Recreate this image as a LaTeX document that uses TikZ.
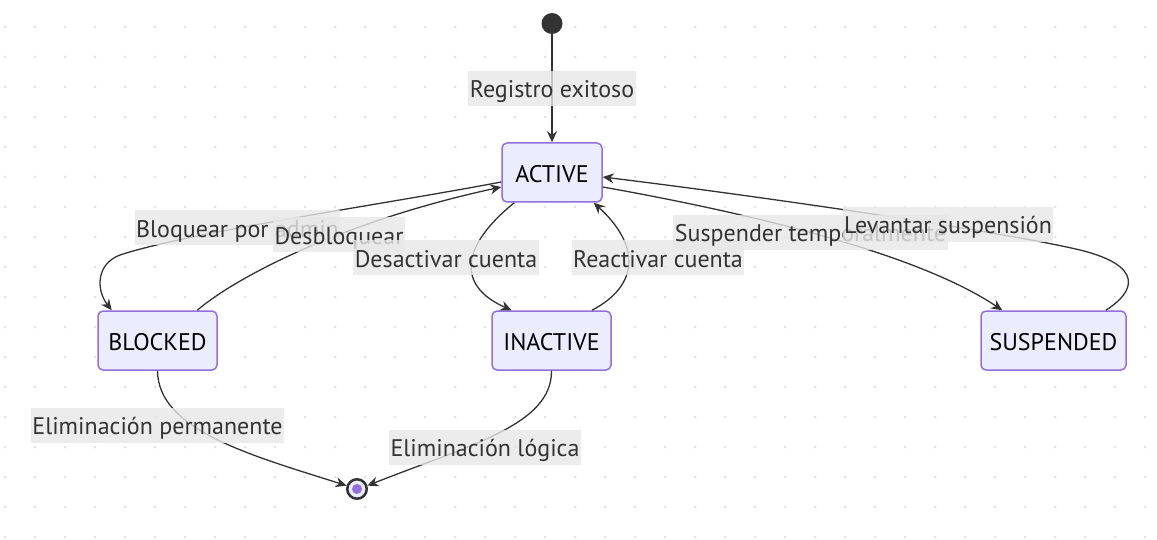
\documentclass[tikz,border=0pt]{standalone}
\usepackage{fontspec}
\setmainfont{PT Sans}
\usetikzlibrary{arrows.meta}
\definecolor{edgec}{HTML}{333333}
\definecolor{nodefill}{HTML}{ECECFF}
\definecolor{nodedraw}{HTML}{9370DB}
\definecolor{lblbg}{HTML}{E8E8E8}
\definecolor{dotc}{HTML}{E4E4E4}
\begin{document}
\begin{tikzpicture}[x=1pt,y=-1pt,
 state/.style={draw=nodedraw, fill=nodefill, line width=1.5pt, rounded corners=5pt,
   minimum height=59pt, inner sep=0pt, text height=19.6pt, text depth=0pt,
   font=\fontsize{24}{28}\selectfont, text=black},
 lbl/.style={fill=lblbg, fill opacity=0.8, text opacity=1, text=edgec, inner xsep=1.5pt,
   inner ysep=0pt, minimum height=35pt, text height=18.5pt, text depth=0pt,
   font=\fontsize{24}{28}\selectfont},
 tr/.style={draw=edgec, line width=1.3pt, -{Stealth[length=11pt,width=10pt]}},
]
\useasboundingbox (0,0) rectangle (1157,540);
\fill[white] (0,0) rectangle (1157,540);
\foreach \i in {0,...,38}{\foreach \j in {0,...,17}{\fill[dotc] (5+30*\i,27+30*\j) circle (1.5pt);}}

% states
\node[circle, fill=edgec, minimum size=21pt, inner sep=0pt] (start) at (552,23.5) {};
\node[state, minimum width=100pt] (active) at (552,172.5) {ACTIVE};
\node[state, minimum width=119pt] (blocked) at (157.5,340.5) {BLOCKED};
\node[state, minimum width=119pt] (inactive) at (551.5,340.5) {INACTIVE};
\node[state, minimum width=145pt] (suspended) at (1053.5,340.5) {SUSPENDED};
\node[circle, draw=edgec, line width=2.5pt, fill=nodefill, minimum size=19.5pt, inner sep=0pt] (end) at (357,489) {};
\fill[nodedraw] (end.center) circle (5pt);

% transitions
\draw[tr] (start) -- (active);
\draw[tr] ([yshift=-9.5pt]active.west) .. controls (380,205) and (190,232) .. (120,255)
  .. controls (96,264) and (96,290) .. ([xshift=14.5pt]blocked.north west);
\draw[tr] ([xshift=-20.5pt]blocked.north east) .. controls (235,278) and (340,222) .. ([yshift=-14.5pt]active.west);
\draw[tr] ([xshift=13pt]active.south west) .. controls (462,245) and (455,285) .. ([xshift=-40pt]inactive.north);
\draw[tr] ([xshift=40.5pt]inactive.north) .. controls (640,285) and (640,245) .. ([xshift=-9pt]active.south east);
\draw[tr] ([yshift=-14.5pt]active.east) .. controls (760,215) and (920,255) .. ([xshift=22pt]suspended.north west);
\draw[tr] ([xshift=-21pt]suspended.north east) .. controls (1135,292) and (1145,266) .. (1080,250)
  .. controls (1000,231) and (750,195) .. ([yshift=-4.5pt]active.east);
\draw[tr] (blocked.south) .. controls (158,430) and (250,455) .. (end.162);
\draw[tr] (inactive.south) .. controls (552,425) and (470,445) .. (end.18);

% labels
\node[lbl] (l1) at (552,88.5) {Registro exitoso};
\node[lbl] (l2) at (237.5,228) {Bloquear por admin};
\node[lbl] (l3) at (339,235) {Desbloquear};
\node[lbl] (l4) at (446,258) {Desactivar cuenta};
\node[lbl] (l5) at (658,258) {Reactivar cuenta};
\node[lbl] (l6) at (810.5,232.5) {Suspender temporalmente};
\node[lbl] (l7) at (948,224.5) {Levantar suspensión};
\node[lbl] (l8) at (157.5,425) {Eliminación permanente};
\node[lbl] (l9) at (485,447) {Eliminación lógica};
\end{tikzpicture}
\end{document}
